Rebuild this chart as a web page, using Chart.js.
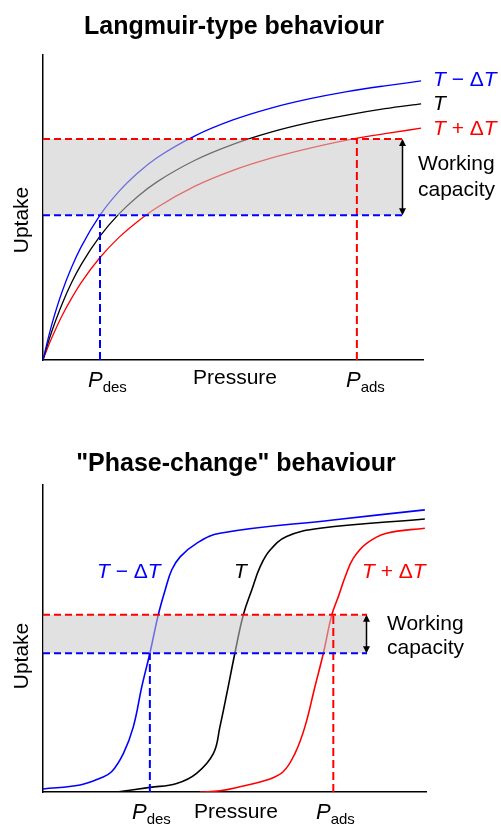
<!DOCTYPE html>
<html>
<head>
<meta charset="utf-8">
<script src="https://cdn.jsdelivr.net/npm/chart.js@4"></script>
<style>
  html, body { margin: 0; padding: 0; background: #fff; }
  body { width: 501px; height: 824px; overflow: hidden; position: relative; }
  canvas { position: absolute; left: 0; display: block; }
  #c1 { top: 0; }
  #c2 { top: 412px; }
</style>
</head>
<body>
<canvas id="c1" width="501" height="412"></canvas>
<canvas id="c2" width="501" height="412"></canvas>
<script>
// ---------- Data: Langmuir-type panel (pressure / uptake, arbitrary units) ----------
const langPressure = [0, 1, 2, 3, 5, 7.5, 10, 15, 20, 25, 30, 40, 50, 60, 70, 80, 90, 99.5];
const langBlue  = [0, 5.3, 10.2, 14.6, 22.3, 30.3, 37.0, 47.5, 55.3, 61.4, 66.3, 73.5, 78.7, 82.6, 85.6, 88.0, 89.9, 91.5];
const langBlack = [0, 4.3, 8.2, 11.8, 18.3, 25.3, 31.2, 40.6, 47.9, 53.7, 58.4, 65.5, 70.7, 74.7, 77.8, 80.3, 82.4, 84.0];
const langRed   = [0, 3.3, 6.4, 9.2, 14.5, 20.2, 25.3, 33.6, 40.2, 45.5, 50.0, 57.0, 62.2, 66.2, 69.4, 72.1, 74.2, 76.0];
const langUptakeDes = 47.5, langUptakeAds = 72.5;
const langPdes = 15, langPads = 82.6, langBandEnd = 94.7;

// ---------- Data: "Phase-change" panel ----------
const phaseBlueP  = [0, 9.7, 14.9, 17.9, 21.0, 23.6, 25.8, 27.9, 30.1, 31.9, 33.6, 35.8, 40.1, 46.2, 75.7, 99.7];
const phaseBlueU  = [1.0, 2.3, 4.5, 6.6, 12.6, 21.3, 34.3, 45.2, 57.7, 65.8, 72.3, 76.6, 81.0, 84.3, 88.6, 91.9];
const phaseBlackP = [19.3, 27.9, 34.9, 40.1, 44.5, 46.2, 48.0, 50.1, 52.3, 54.5, 56.7, 59.3, 63.6, 72.3, 99.7];
const phaseBlackU = [0, 1.5, 2.8, 6.1, 12.6, 21.3, 32.1, 45.2, 57.7, 65.8, 73.4, 78.8, 83.2, 85.9, 88.9];
const phaseRedP   = [41.0, 46.2, 51.4, 58.4, 62.7, 65.8, 68.4, 71.0, 73.2, 75.4, 77.1, 78.9, 81.0, 84.5, 89.7, 99.7];
const phaseRedU   = [0, 0.4, 1.7, 3.9, 6.6, 12.6, 21.3, 34.3, 45.2, 57.7, 63.6, 70.1, 76.1, 81.0, 84.3, 85.9];
const phaseUptakeDes = 45.2, phaseUptakeAds = 57.7;
const phasePdes = 27.9, phasePads = 75.8, phaseBandEnd = 84.6;

// ---------- Text ----------
const titles = ['Langmuir-type behaviour', '"Phase-change" behaviour'];
const yTitle = 'Uptake', xTitle = 'Pressure';
const wc1 = 'Working', wc2 = 'capacity';

const BLUE = '#0000ff', RED = '#ff0000', BLACK = '#000000';
const FONT = '"Liberation Sans", Arial, Helvetica, sans-serif';
const BAND = 'rgba(200,200,200,0.55)';

function pts(xs, ys) { return xs.map((x, i) => ({ x: x, y: ys[i] })); }

function drawRich(ctx, x, y, segs, color, align) {
  let total = 0;
  const ws = segs.map(s => {
    ctx.font = (s.italic ? 'italic ' : '') + (s.bold ? 'bold ' : '') + s.size + 'px ' + FONT;
    const w = ctx.measureText(s.t).width;
    total += w;
    return w;
  });
  let cx = align === 'center' ? x - total / 2 : x;
  segs.forEach((s, i) => {
    ctx.font = (s.italic ? 'italic ' : '') + (s.bold ? 'bold ' : '') + s.size + 'px ' + FONT;
    ctx.fillStyle = color;
    ctx.textAlign = 'left';
    ctx.textBaseline = 'alphabetic';
    ctx.fillText(s.t, cx, y + (s.dy || 0));
    cx += ws[i];
  });
}

function tLabel(sign) {
  if (!sign) return [{ t: 'T', size: 21, italic: true }];
  return [{ t: 'T', size: 21, italic: true }, { t: ' ' + sign + ' \u0394', size: 21 }, { t: 'T', size: 21, italic: true }];
}
function pLabel(sub) {
  return [{ t: 'P', size: 22, italic: true }, { t: sub, size: 15, dy: 5 }];
}

const annotPlugin = {
  id: 'annot',
  afterDatasetsDraw(chart, args, opts) {
    const ctx = chart.ctx;
    const xs = chart.scales.x, ys = chart.scales.y;
    ctx.save();
    // double-headed arrow for working capacity
    const ax = Math.round(xs.getPixelForValue(opts.arrowX)) - 0.5;
    const y1 = ys.getPixelForValue(opts.arrowTop), y2 = ys.getPixelForValue(opts.arrowBottom);
    ctx.strokeStyle = BLACK; ctx.fillStyle = BLACK; ctx.lineWidth = 1.5;
    ctx.beginPath(); ctx.moveTo(ax, y1 + 2); ctx.lineTo(ax, y2 - 2); ctx.stroke();
    ctx.beginPath(); ctx.moveTo(ax, y1); ctx.lineTo(ax - 3.5, y1 + 7); ctx.lineTo(ax + 3.5, y1 + 7); ctx.closePath(); ctx.fill();
    ctx.beginPath(); ctx.moveTo(ax, y2); ctx.lineTo(ax - 3.5, y2 - 7); ctx.lineTo(ax + 3.5, y2 - 7); ctx.closePath(); ctx.fill();
    // texts
    opts.texts.forEach(tx => {
      if (tx.rotate) {
        ctx.save();
        ctx.translate(tx.x, tx.y);
        ctx.rotate(-Math.PI / 2);
        drawRich(ctx, 0, 0, tx.segs, tx.color, 'center');
        ctx.restore();
      } else {
        drawRich(ctx, tx.x, tx.y, tx.segs, tx.color, tx.align);
      }
    });
    ctx.restore();
  }
};

function makeChart(id, cfg) {
  const curveW = cfg.curveW;
  const curveStyle = cfg.smooth;
  const datasets = [
    Object.assign({ data: cfg.blue, borderColor: BLUE, borderWidth: curveW, order: 5 }, curveStyle),
    Object.assign({ data: cfg.black, borderColor: BLACK, borderWidth: curveW, order: 5 }, curveStyle),
    Object.assign({ data: cfg.red, borderColor: RED, borderWidth: curveW, order: 5 }, curveStyle),
    { data: [{ x: 0, y: cfg.uAds }, { x: cfg.bandEnd, y: cfg.uAds }], borderColor: RED, borderWidth: 2,
      borderDash: [7, 4], fill: '+1', backgroundColor: BAND, order: 2, tension: 0 },
    { data: [{ x: 0, y: cfg.uDes }, { x: cfg.bandEnd, y: cfg.uDes }], borderColor: BLUE, borderWidth: 2,
      borderDash: [7, 4], fill: false, order: 1, tension: 0 },
    { data: [{ x: cfg.pDes, y: 0 }, { x: cfg.pDes, y: cfg.uDes }], borderColor: BLUE, borderWidth: 2,
      borderDash: [8, 4], fill: false, order: 1, tension: 0 },
    { data: [{ x: cfg.pAds, y: 0 }, { x: cfg.pAds, y: cfg.uAds }], borderColor: RED, borderWidth: 2,
      borderDash: [8, 4], fill: false, order: 1, tension: 0 }
  ];
  datasets.forEach(d => {
    d.pointRadius = 0; d.pointHoverRadius = 0;
    if (d.fill === undefined) d.fill = false;
  });
  return new Chart(document.getElementById(id), {
    type: 'line',
    data: { datasets: datasets },
    plugins: [annotPlugin],
    options: {
      responsive: false,
      animation: false,
      devicePixelRatio: 1,
      layout: { padding: cfg.padding },
      events: [],
      plugins: {
        legend: { display: false },
        tooltip: { enabled: false },
        title: { display: false },
        annot: cfg.annot
      },
      scales: {
        x: {
          type: 'linear', min: 0, max: 100,
          grid: { display: false, drawTicks: false },
          ticks: { display: false },
          border: { display: true, color: BLACK, width: 1.5 }
        },
        y: {
          type: 'linear', min: 0, max: 100,
          grid: { display: false, drawTicks: false },
          ticks: { display: false },
          border: { display: true, color: BLACK, width: 1.5 }
        }
      }
    }
  });
}

// Top panel
makeChart('c1', {
  curveW: 1.3,
  smooth: { cubicInterpolationMode: 'monotone' },
  blue: pts(langPressure, langBlue),
  black: pts(langPressure, langBlack),
  red: pts(langPressure, langRed),
  uAds: langUptakeAds, uDes: langUptakeDes, pDes: langPdes, pAds: langPads, bandEnd: langBandEnd,
  padding: { left: 43, top: 55, right: 78, bottom: 52 },
  annot: {
    arrowX: langBandEnd, arrowTop: langUptakeAds, arrowBottom: langUptakeDes,
    texts: [
      { x: 234, y: 34, segs: [{ t: titles[0], size: 25, bold: true }], color: BLACK, align: 'center' },
      { x: 433, y: 86, segs: tLabel('\u2212'), color: BLUE },
      { x: 433, y: 110, segs: tLabel(null), color: BLACK },
      { x: 433, y: 135, segs: tLabel('+'), color: RED },
      { x: 418, y: 170, segs: [{ t: wc1, size: 21 }], color: BLACK },
      { x: 418, y: 196, segs: [{ t: wc2, size: 21 }], color: BLACK },
      { x: 28, y: 220, segs: [{ t: yTitle, size: 21 }], color: BLACK, rotate: true },
      { x: 235, y: 384, segs: [{ t: xTitle, size: 21 }], color: BLACK, align: 'center' },
      { x: 88, y: 387, segs: pLabel('des'), color: BLACK },
      { x: 346, y: 387, segs: pLabel('ads'), color: BLACK }
    ]
  }
});

// Bottom panel
makeChart('c2', {
  curveW: 1.6,
  smooth: { tension: 0.4 },
  blue: pts(phaseBlueP, phaseBlueU),
  black: pts(phaseBlackP, phaseBlackU),
  red: pts(phaseRedP, phaseRedU),
  uAds: phaseUptakeAds, uDes: phaseUptakeDes, pDes: phasePdes, pAds: phasePads, bandEnd: phaseBandEnd,
  padding: { left: 43, top: 73, right: 75, bottom: 32 },
  annot: {
    arrowX: phaseBandEnd, arrowTop: phaseUptakeAds, arrowBottom: phaseUptakeDes,
    texts: [
      { x: 236, y: 59, segs: [{ t: titles[1], size: 25, bold: true }], color: BLACK, align: 'center' },
      { x: 97, y: 166, segs: tLabel('\u2212'), color: BLUE },
      { x: 234, y: 166, segs: tLabel(null), color: BLACK },
      { x: 362, y: 166, segs: tLabel('+'), color: RED },
      { x: 387, y: 218, segs: [{ t: wc1, size: 21 }], color: BLACK },
      { x: 387, y: 242, segs: [{ t: wc2, size: 21 }], color: BLACK },
      { x: 28, y: 244, segs: [{ t: yTitle, size: 21 }], color: BLACK, rotate: true },
      { x: 236, y: 406, segs: [{ t: xTitle, size: 21 }], color: BLACK, align: 'center' },
      { x: 132, y: 407, segs: pLabel('des'), color: BLACK },
      { x: 316, y: 407, segs: pLabel('ads'), color: BLACK }
    ]
  }
});
</script>
</body>
</html>
